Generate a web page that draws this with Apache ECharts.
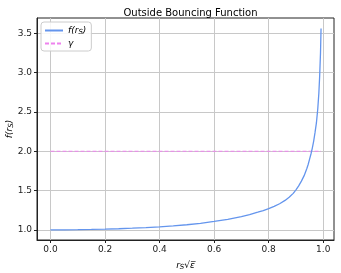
<!DOCTYPE html>
<html><head><meta charset="utf-8">
<script src="https://cdn.jsdelivr.net/npm/echarts@6/dist/echarts.min.js"></script>
<style>html,body{margin:0;padding:0;background:#fff}#c{width:341px;height:273px}</style>
</head><body><div id="c"></div>
<script>
// Data
const xValues = [0, 0.05, 0.1, 0.15, 0.2, 0.25, 0.3, 0.35, 0.4, 0.45, 0.5, 0.55, 0.6, 0.65, 0.7, 0.73, 0.76, 0.78, 0.8, 0.82, 0.84, 0.86, 0.875, 0.89, 0.9, 0.91, 0.92, 0.93, 0.94, 0.945, 0.95, 0.955, 0.96, 0.965, 0.97, 0.975, 0.98, 0.984, 0.987, 0.99, 0.992];
const fValues = [1.000, 1.001, 1.003, 1.006, 1.010, 1.015, 1.022, 1.030, 1.040, 1.052, 1.066, 1.084, 1.108, 1.135, 1.170, 1.195, 1.225, 1.246, 1.270, 1.300, 1.333, 1.375, 1.415, 1.465, 1.510, 1.560, 1.620, 1.690, 1.780, 1.835, 1.900, 1.965, 2.040, 2.130, 2.240, 2.360, 2.540, 2.740, 2.960, 3.250, 3.560];
const gammaX = [0, 0.992];
const gammaY = [2, 2];
const xTicks = [0, 0.2, 0.4, 0.6, 0.8, 1.0];
const yTicks = [1.0, 1.5, 2.0, 2.5, 3.0, 3.5];

const fData = xValues.map((x, i) => [x, fValues[i]]);
const gData = gammaX.map((x, i) => [x, gammaY[i]]);
const FONT = 'DejaVu Sans';
const rich = {
  i: {fontStyle: 'italic', fontFamily: FONT, fontSize: 9, color: '#000'},
  s: {fontStyle: 'italic', fontFamily: FONT, fontSize: 7, color: '#000', verticalAlign: 'bottom', padding: [4, 0, 0, 0]},
  n: {fontFamily: FONT, fontSize: 9, color: '#000'}
};

const chart = echarts.init(document.getElementById('c'), null, {renderer: 'canvas'});
chart.setOption({
  animation: false,
  title: {text: 'Outside Bouncing Function', left: 185.5, textAlign: 'center', top: 3,
    textStyle: {fontFamily: FONT, fontSize: 10, fontWeight: 'normal', color: '#000'}},
  grid: {left: 37, right: 7, top: 18, bottom: 33, show: true, borderColor: '#222', borderWidth: 1,
    backgroundColor: 'transparent', containLabel: false, outerBoundsMode: 'none'},
  legend: {
    left: 41, top: 22, orient: 'vertical', itemWidth: 18, itemHeight: 8, itemGap: 3,
    padding: [4, 5, 3, 3], borderColor: '#ccc', borderWidth: 1, borderRadius: 3, backgroundColor: 'rgba(255,255,255,0.85)',
    textStyle: {fontFamily: FONT, fontSize: 9, color: '#000', rich: rich},
    itemStyle: {opacity: 0},
    formatter: function (name) { return name === 'f' ? '{i|f(r}{s|S}{i|)}' : '{i|γ}'; },
    data: ['f', 'g']
  },
  xAxis: {
    type: 'value', min: -0.0495, max: 1.0395,
    name: '{i|r}{s|S}{n|√}{i|ε̅}', nameLocation: 'middle', nameGap: 20, nameMoveOverlap: false,
    nameTextStyle: {rich: rich},
    axisLine: {show: true, onZero: false, lineStyle: {color: '#222', width: 1}},
    axisTick: {show: true, length: 3, customValues: xTicks, lineStyle: {color: '#222'}},
    axisLabel: {customValues: xTicks, fontFamily: FONT, fontSize: 9, color: '#222', margin: 5,
      formatter: v => v.toFixed(1)},
    splitLine: {show: true, lineStyle: {color: '#c8c8c8', width: 1}}
  },
  yAxis: {
    type: 'value', min: 0.872, max: 3.694,
    name: '{i|f(r}{s|S}{i|)}', nameLocation: 'middle', nameGap: 22, nameRotate: 90, nameMoveOverlap: false,
    nameTextStyle: {rich: rich},
    axisLine: {show: true, onZero: false, lineStyle: {color: '#222', width: 1}},
    axisTick: {show: true, length: 3, customValues: yTicks, lineStyle: {color: '#222'}},
    axisLabel: {customValues: yTicks, fontFamily: FONT, fontSize: 9, color: '#222', margin: 5,
      formatter: v => v.toFixed(1)},
    splitLine: {show: true, lineStyle: {color: '#c8c8c8', width: 1}}
  },
  series: [
    {name: 'f', type: 'line', data: fData, symbol: 'none', smooth: false, z: 3,
      lineStyle: {color: '#6495ED', width: 1.3}, itemStyle: {color: '#6495ED'}},
    {name: 'g', type: 'line', data: gData, symbol: 'none', z: 2,
      lineStyle: {color: '#EE82EE', width: 1.2, type: [4, 2]}, itemStyle: {color: '#EE82EE'}}
  ]
});
</script></body></html>
